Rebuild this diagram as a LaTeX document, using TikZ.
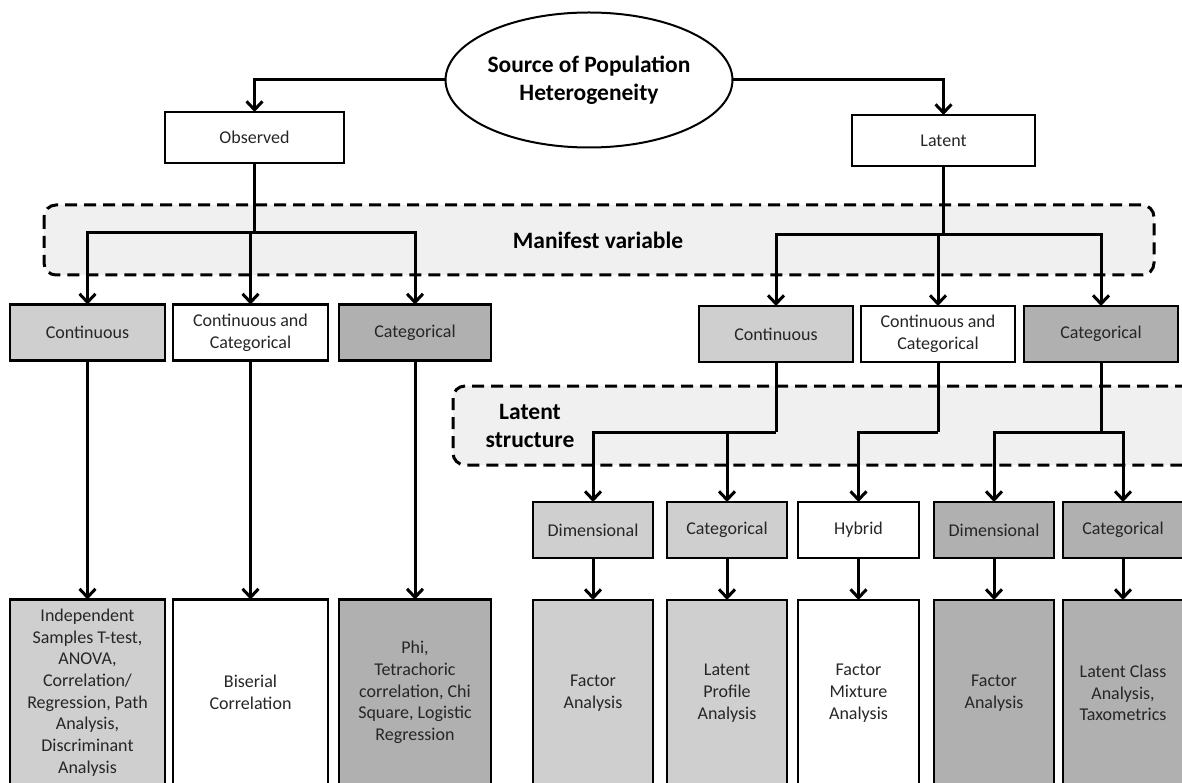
\documentclass[tikz,border=0pt]{standalone}
\usepackage{fontspec}
\setmainfont{Carlito}
\usetikzlibrary{shapes.geometric,arrows.meta,positioning}
\definecolor{contgray}{gray}{0.81}
\definecolor{catgray}{gray}{0.69}
\definecolor{zonegray}{gray}{0.94}

\begin{document}
\begin{tikzpicture}[x=1pt, y=-1pt,
  box/.style={rectangle, draw=black, line width=2.5pt, outer sep=0pt, inner sep=2pt,
              minimum height=56pt, align=center, text=black!85,
              font=\fontsize{18}{21.7}\selectfont},
  res/.style={box, minimum height=186pt},
  conn/.style={line width=3pt, -{Straight Barb[length=8.5pt,width=16pt]}},
  trunk/.style={line width=3pt},
  zone/.style={draw=black, fill=zonegray, line width=3pt, dash pattern=on 12pt off 7pt,
               rounded corners=12pt},
  head/.style={font=\bfseries\fontsize{23.5}{28.5}\selectfont, align=center}
]
  \useasboundingbox (0,0) rectangle (1182,783);
  \clip (0,0) rectangle (1182,783);

  % shaded bands
  \draw[zone] (44,205) rectangle (1154,275);
  \draw[zone] (453,386) rectangle (1230,465);
  \node[head] (manif) at (598,240) {Manifest variable};
  \node[head] (lstruct) at (530,426) {Latent\\structure};

  % top
  \node[ellipse, draw=black, line width=2pt, minimum width=272pt, minimum height=135pt,
        inner sep=0pt, outer sep=0pt, head] (src) at (589,80) {Source of Population\\Heterogeneity};
  \node[box, minimum width=179pt, minimum height=51pt] (obs) at (254.5,137.5) {Observed};
  \node[box, minimum width=183pt, minimum height=51pt] (lat) at (943.5,140.5) {Latent};

  % observed side
  \node[box, fill=contgray, minimum width=155pt] (ocont) at (87.5,332.5) {Continuous};
  \node[box, minimum width=155pt, right=8pt of ocont] (omix) {Continuous and\\Categorical};
  \node[box, fill=catgray, minimum width=152pt, right=11pt of omix] (ocat) {Categorical};

  \node[res, fill=contgray, minimum width=155pt, below=239pt of ocont] (ttest)
    {Independent\\Samples T-test,\\ANOVA,\\Correlation/\\Regression, Path\\Analysis,\\Discriminant\\Analysis};
  \node[res, minimum width=155pt, below=239pt of omix] (biser) {Biserial\\Correlation};
  \node[res, fill=catgray, minimum width=152pt, below=239pt of ocat] (phi)
    {Phi,\\Tetrachoric\\correlation, Chi\\Square, Logistic\\Regression};

  % latent side
  \node[box, fill=contgray, minimum width=154pt] (lcont) at (776,334) {Continuous};
  \node[box, minimum width=154pt, right=8pt of lcont] (lmix) {Continuous and\\Categorical};
  \node[box, fill=catgray, minimum width=154pt, right=9pt of lmix] (lcat) {Categorical};

  \node[box, fill=contgray, minimum width=120pt] (dim1) at (593,530) {Dimensional};
  \node[box, fill=contgray, minimum width=120pt, right=14pt of dim1] (cls1) {Categorical};
  \node[box, minimum width=121pt, right=11pt of cls1] (hyb) {Hybrid};
  \node[box, fill=catgray, minimum width=120pt, right=15pt of hyb] (dim2) {Dimensional};
  \node[box, fill=catgray, minimum width=120pt, right=9pt of dim2] (cls2) {Categorical};

  \node[res, fill=contgray, minimum width=120pt, below=42pt of dim1] (fa1) {Factor\\Analysis};
  \node[res, fill=contgray, minimum width=120pt, below=42pt of cls1] (lpa) {Latent\\Profile\\Analysis};
  \node[res, minimum width=121pt, below=42pt of hyb] (fma) {Factor\\Mixture\\Analysis};
  \node[res, fill=catgray, minimum width=120pt, below=42pt of dim2] (fa2) {Factor\\Analysis};
  \node[res, fill=catgray, minimum width=120pt, below=42pt of cls2] (lca) {Latent Class\\Analysis,\\Taxometrics};

  % connectors
  \draw[conn] (src.west) -| (obs.north);
  \draw[conn] (src.east) -| (lat.north);

  \draw[trunk] (obs.south) -- ++(0,70) coordinate (ofork);
  \foreach \n in {ocont,omix,ocat}
    \draw[conn] (ofork) -| (\n.north);

  \draw[trunk] (lat.south) -- ++(0,69) coordinate (lfork);
  \foreach \n in {lcont,lmix,lcat}
    \draw[conn] (lfork) -| (\n.north);

  \draw[trunk] (lcont.south) -- ++(0,70) coordinate (cfork);
  \draw[trunk] (lmix.south) -- ++(0,70) coordinate (mfork);
  \draw[trunk] (lcat.south) -- ++(0,70) coordinate (kfork);
  \draw[conn] (cfork) -| (dim1.north);
  \draw[conn] (cfork) -| (cls1.north);
  \draw[conn] (mfork) -| (hyb.north);
  \draw[conn] (kfork) -| (dim2.north);
  \draw[conn] (kfork) -| (cls2.north);

  \draw[conn] (ocont.south) -- (ttest.north);
  \draw[conn] (omix.south) -- (biser.north);
  \draw[conn] (ocat.south) -- (phi.north);
  \draw[conn] (dim1.south) -- (fa1.north);
  \draw[conn] (cls1.south) -- (lpa.north);
  \draw[conn] (hyb.south) -- (fma.north);
  \draw[conn] (dim2.south) -- (fa2.north);
  \draw[conn] (cls2.south) -- (lca.north);
\end{tikzpicture}
\end{document}
